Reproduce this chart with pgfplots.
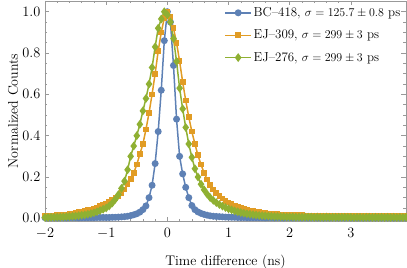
\documentclass[border=0pt]{standalone}
\usepackage{pgfplots}
\usepackage{pgfplotstable}
\pgfplotsset{compat=1.18}
\definecolor{mblue}{rgb}{0.368,0.507,0.710}
\definecolor{morange}{rgb}{0.881,0.611,0.142}
\definecolor{mgreen}{rgb}{0.560,0.692,0.195}
\pgfplotstableread{
x b o g
-2.00 0.003 0.012 0.004
-1.95 0.002 0.012 0.004
-1.90 0.003 0.013 0.005
-1.85 0.003 0.014 0.005
-1.80 0.002 0.015 0.006
-1.75 0.003 0.016 0.006
-1.70 0.003 0.018 0.007
-1.65 0.002 0.019 0.008
-1.60 0.003 0.021 0.009
-1.55 0.003 0.024 0.010
-1.50 0.003 0.026 0.011
-1.45 0.002 0.029 0.013
-1.40 0.003 0.032 0.015
-1.35 0.003 0.035 0.017
-1.30 0.003 0.039 0.020
-1.25 0.003 0.043 0.023
-1.20 0.003 0.048 0.027
-1.15 0.004 0.053 0.032
-1.10 0.004 0.058 0.038
-1.05 0.004 0.065 0.044
-1.00 0.004 0.072 0.050
-0.95 0.004 0.080 0.060
-0.90 0.005 0.088 0.074
-0.85 0.005 0.097 0.092
-0.80 0.006 0.108 0.115
-0.75 0.007 0.123 0.145
-0.70 0.008 0.140 0.180
-0.65 0.010 0.165 0.235
-0.60 0.013 0.190 0.300
-0.55 0.017 0.220 0.350
-0.50 0.022 0.260 0.400
-0.45 0.030 0.310 0.455
-0.40 0.042 0.360 0.520
-0.35 0.060 0.430 0.580
-0.30 0.100 0.510 0.650
-0.25 0.160 0.600 0.730
-0.20 0.265 0.700 0.830
-0.15 0.420 0.810 0.920
-0.10 0.620 0.900 0.965
-0.05 0.860 0.970 1.000
0.00 1.000 1.000 0.985
0.05 0.950 0.975 0.950
0.10 0.740 0.920 0.870
0.15 0.480 0.850 0.760
0.20 0.300 0.760 0.630
0.25 0.215 0.660 0.530
0.30 0.150 0.570 0.440
0.35 0.100 0.490 0.360
0.40 0.062 0.420 0.295
0.45 0.042 0.360 0.240
0.50 0.031 0.305 0.200
0.55 0.024 0.260 0.165
0.60 0.019 0.220 0.138
0.65 0.015 0.188 0.117
0.70 0.012 0.162 0.100
0.75 0.010 0.140 0.087
0.80 0.009 0.122 0.076
0.85 0.008 0.108 0.067
0.90 0.007 0.096 0.059
0.95 0.006 0.085 0.052
1.00 0.006 0.076 0.046
1.05 0.005 0.068 0.041
1.10 0.005 0.061 0.036
1.15 0.004 0.055 0.032
1.20 0.004 0.050 0.028
1.25 0.004 0.045 0.025
1.30 0.003 0.041 0.022
1.35 0.003 0.038 0.020
1.40 0.003 0.035 0.018
1.45 0.003 0.032 0.016
1.50 0.003 0.030 0.014
1.55 0.003 0.028 0.013
1.60 0.002 0.026 0.012
1.65 0.003 0.024 0.011
1.70 0.003 0.022 0.010
1.75 0.002 0.021 0.009
1.80 0.003 0.020 0.009
1.85 0.003 0.019 0.008
1.90 0.002 0.018 0.008
1.95 0.003 0.017 0.007
2.00 0.003 0.016 0.007
2.05 0.002 0.016 0.007
2.10 0.003 0.015 0.006
2.15 0.003 0.015 0.006
2.20 0.002 0.015 0.006
2.25 0.003 0.014 0.006
2.30 0.002 0.014 0.006
2.35 0.003 0.014 0.006
2.40 0.003 0.014 0.005
2.45 0.002 0.013 0.006
2.50 0.003 0.013 0.005
2.55 0.002 0.013 0.005
2.60 0.003 0.013 0.006
2.65 0.002 0.013 0.005
2.70 0.003 0.013 0.005
2.75 0.003 0.012 0.005
2.80 0.002 0.013 0.005
2.85 0.003 0.012 0.005
2.90 0.002 0.012 0.005
2.95 0.003 0.013 0.005
3.00 0.002 0.012 0.005
3.05 0.003 0.012 0.004
3.10 0.002 0.012 0.005
3.15 0.003 0.012 0.005
3.20 0.002 0.012 0.004
3.25 0.003 0.012 0.005
3.30 0.002 0.011 0.005
3.35 0.003 0.012 0.004
3.40 0.002 0.012 0.005
3.45 0.003 0.011 0.004
3.50 0.002 0.012 0.005
3.55 0.003 0.011 0.004
3.60 0.002 0.012 0.005
3.65 0.003 0.011 0.004
3.70 0.002 0.011 0.005
3.75 0.003 0.012 0.004
3.80 0.002 0.011 0.005
3.85 0.003 0.011 0.004
3.90 0.002 0.011 0.005
}\data
\begin{document}
\begin{tikzpicture}
\begin{axis}[
  name=ax,
  scale only axis, width=361bp, height=220bp,
  font=\fontsize{14}{16}\selectfont,
  xmin=-2, xmax=3.9, ymin=-0.013, ymax=1.052,
  axis line style={gray!80},
  tick style={gray!80, line width=0.5bp},
  tick align=inside,
  major tick length=4.5bp, minor tick length=2.5bp,
  xtick={-2,-1,0,1,2,3}, minor x tick num=4,
  ytick={0,0.2,0.4,0.6,0.8,1.0}, minor y tick num=3,
  every tick label/.append style={inner sep=1bp},
  yticklabel style={xshift=-3.5bp, /pgf/number format/.cd, fixed, fixed zerofill, precision=1},
  xticklabel style={yshift=-6.5bp},
  xlabel={Time difference (ns)},
  ylabel={Normalized Counts},
  xlabel style={at={(axis description cs:0.5,-0.203)}, anchor=base},
  ylabel style={at={(axis description cs:-0.088,0.5)}, anchor=center, rotate=0},
  legend style={draw=none, fill=none, at={(0.993,0.985)}, anchor=north east,
    font=\fontsize{13}{15}\selectfont, row sep=8bp, inner sep=1bp},
  legend cell align=left,
  legend image code/.code={\draw[mark repeat=2, mark phase=2] plot coordinates {(0cm,0cm) (0.45cm,0cm) (0.9cm,0cm)};},
]
\addplot[mblue, line width=1.5bp, mark=*, mark size=2.7bp] table[x=x,y=b]{\data};
\addlegendentry{BC--418, $\sigma = 125.7 \pm 0.8$ ps}
\addplot[morange, line width=1.5bp, mark=square*, mark size=2.1bp] table[x=x,y=o]{\data};
\addlegendentry{EJ--309, $\sigma = 299 \pm 3$ ps}
\addplot[mgreen, line width=1.5bp, mark=diamond*, mark size=3.2bp] table[x=x,y=g]{\data};
\addlegendentry{EJ--276, $\sigma = 299 \pm 3$ ps}
\end{axis}
\pgfresetboundingbox
\path[use as bounding box] ([xshift=-45bp,yshift=-47bp]ax.south west) rectangle ([xshift=1bp,yshift=1bp]ax.north east);
\end{tikzpicture}
\end{document}
